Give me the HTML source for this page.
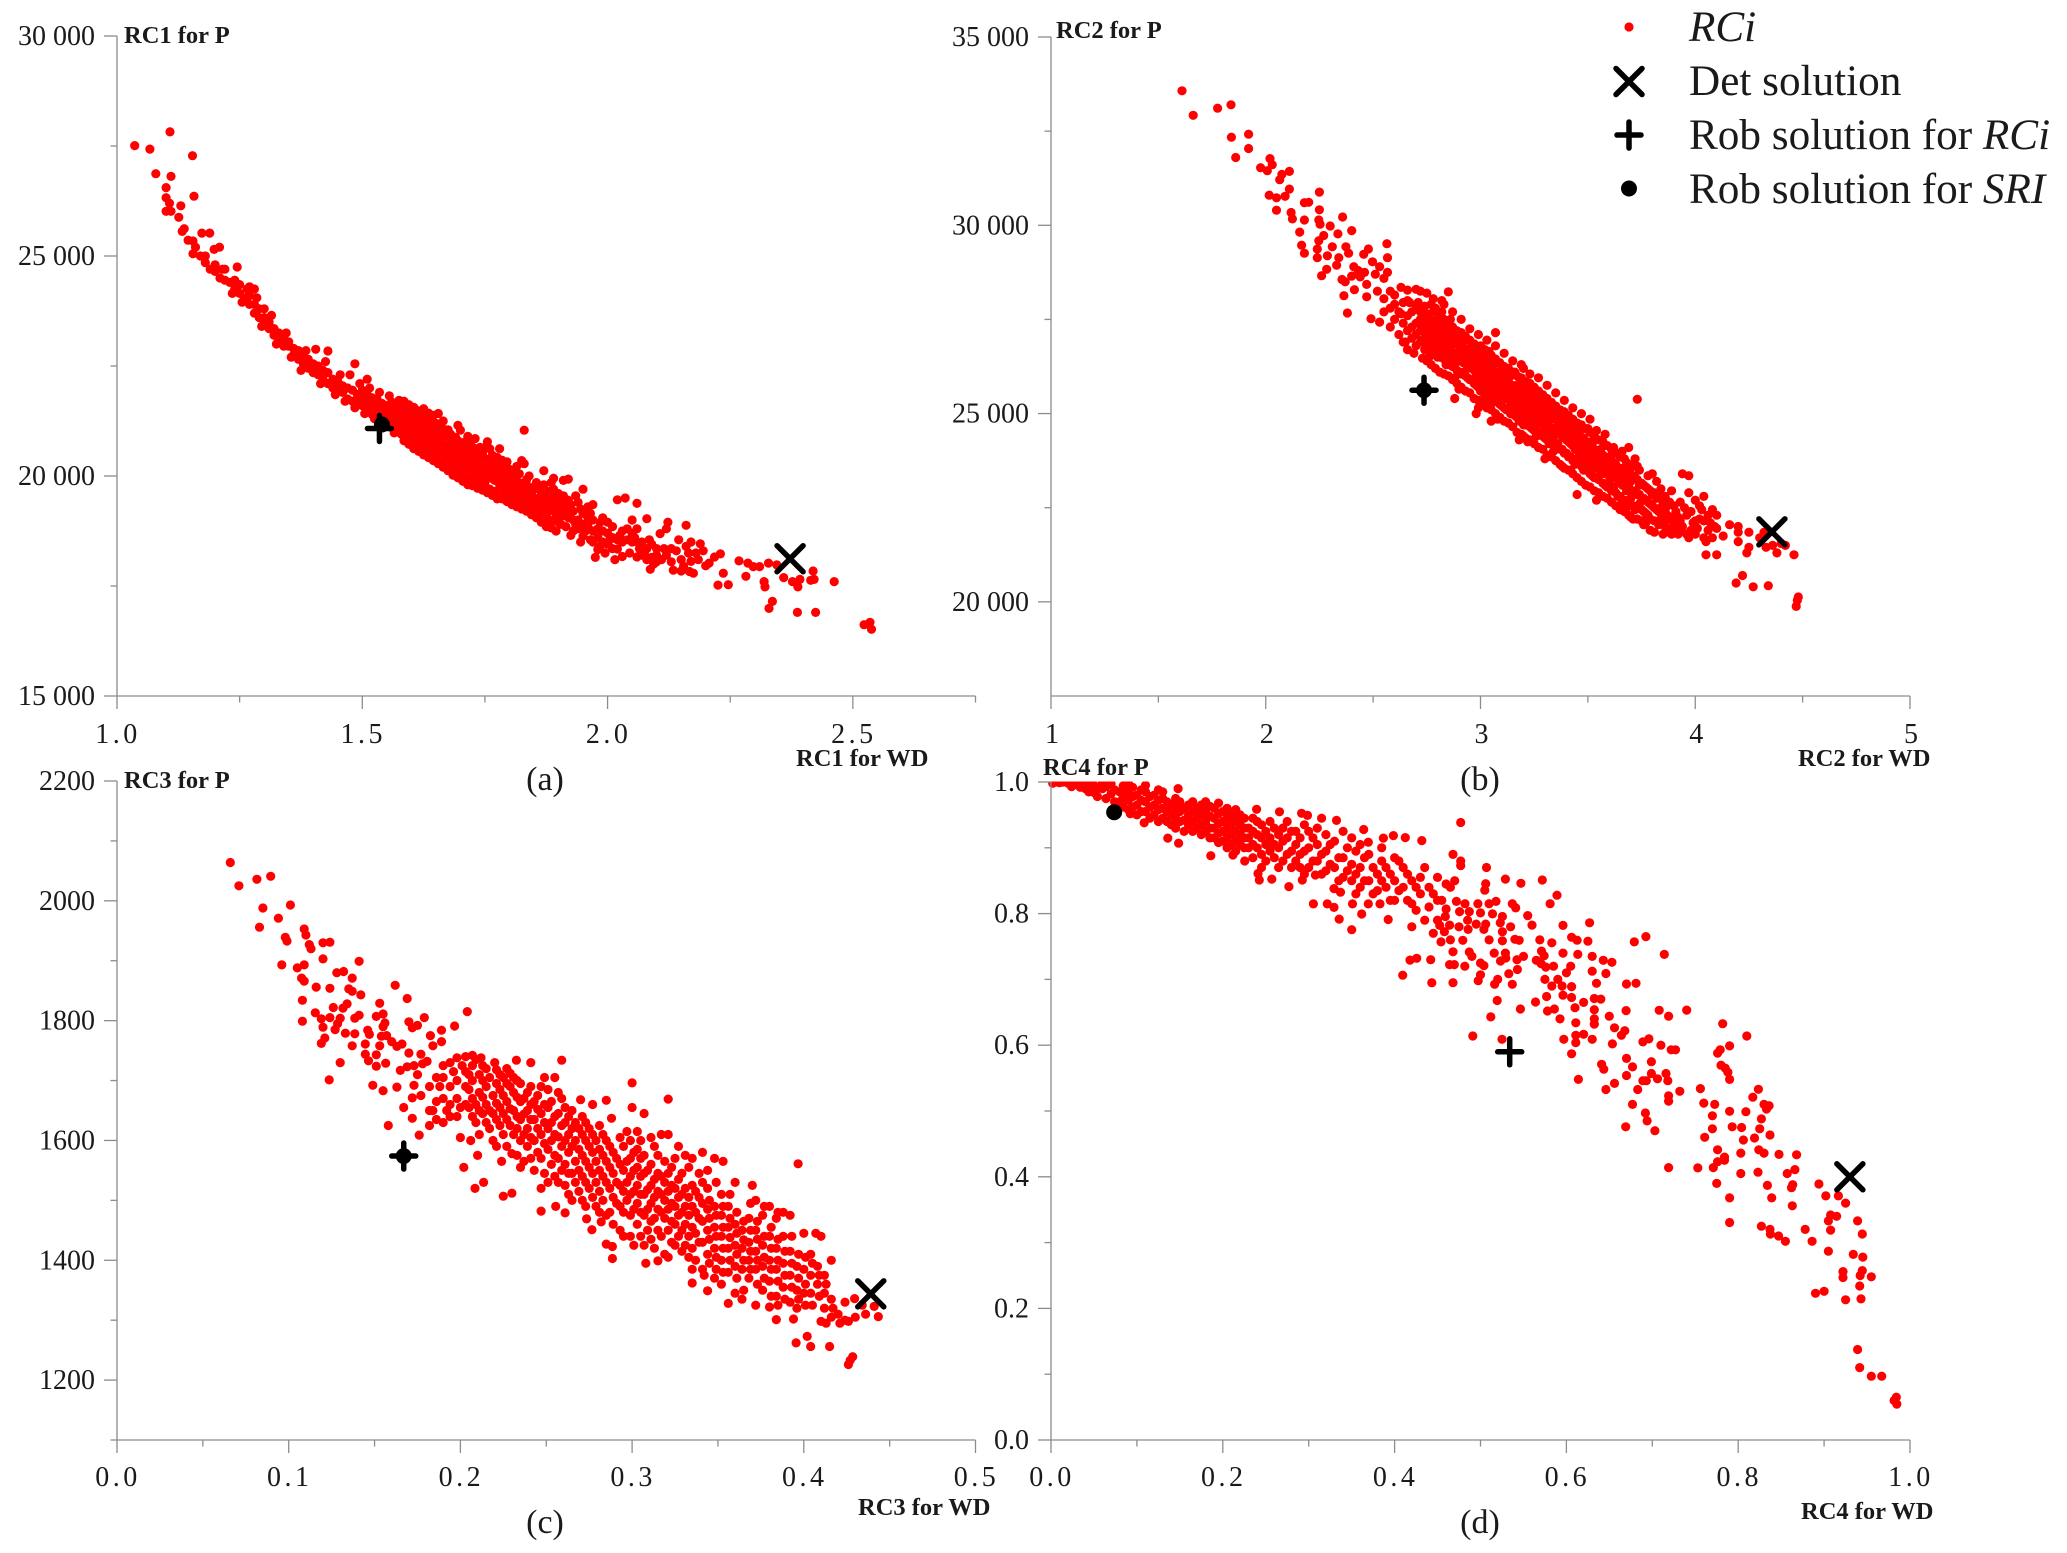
<!DOCTYPE html>
<html lang="en">
<head>
<meta charset="utf-8">
<title>RC scatter panels</title>
<style>
html,body{margin:0;padding:0;background:#fff;}
svg{display:block;}
text{font-family:"Liberation Serif",serif;fill:#1a1a1a;}
.tick{font-size:28px;}
.title{font-size:24.5px;font-weight:bold;}
.cap{font-size:34px;}
.leg{font-size:43.2px;}
</style>
</head>
<body>
<svg id="chart" xmlns="http://www.w3.org/2000/svg" width="2067" height="1553" viewBox="0 0 2067 1553"></svg>
<script>
const rc1Points = [[1.036,27510],[1.067,27430],[1.108,27820],[1.154,27280],[1.079,26870],[1.11,26810],[1.1,26555],[1.1,26325],[1.157,26360],[1.107,26200],[1.1,26015],[1.11,26015],[1.13,26140],[1.126,25880],[1.137,25620],[1.133,25560],[1.145,25360],[1.155,25340],[1.173,25520],[1.189,25520],[1.155,25050],[1.198,25150],[1.209,25200],[1.16,25200],[1.18,25000],[1.17,25000],[1.18,24850],[1.19,24700],[1.2,24800],[1.2,24650],[1.21,24500],[1.22,24450],[1.22,24700],[1.23,24400],[1.24,24250],[1.24,24450],[1.25,24150],[1.25,24350],[1.245,24750],[1.26,24050],[1.27,24100],[1.27,23900],[1.27,24300],[1.28,23900],[1.28,23700],[1.29,23800],[1.29,23600],[1.28,24250],[1.3,23800],[1.3,23600],[1.3,23450],[1.31,23500],[1.31,23350],[1.32,23350],[1.32,23200],[1.33,23250],[1.33,23100],[1.34,23100],[1.34,22950],[1.35,22950],[1.35,23050],[1.36,22750],[1.36,22900],[1.37,22650],[1.37,22850],[1.38,22700],[1.38,22550],[1.39,22450],[1.39,22650],[1.4,22350],[1.4,22550],[1.41,22300],[1.41,22500],[1.405,22880],[1.43,22840],[1.42,22200],[1.42,22400],[1.43,22100],[1.43,22350],[1.44,22000],[1.44,22200],[1.45,21950],[1.45,22150],[1.46,21900],[1.46,22050],[1.47,21750],[1.47,22000],[1.485,22550],[1.48,21700],[1.48,21950],[1.475,22300],[1.49,21650],[1.49,21850],[1.51,22200],[1.5,21600],[1.5,21800],[1.5,21950],
[1.51,21500],[1.51,21700],[1.51,21850],[1.52,21400],[1.52,21600],[1.52,21780],[1.53,21350],[1.53,21550],[1.53,21750],[1.54,21250],[1.54,21450],[1.54,21650],[1.55,21200],[1.55,21400],[1.55,21600],[1.56,21100],[1.56,21300],[1.56,21500],[1.56,21680],[1.57,21050],[1.57,21250],[1.57,21450],[1.57,21620],[1.58,20950],[1.58,21150],[1.58,21350],[1.58,21550],[1.59,20850],[1.59,21050],[1.59,21250],[1.59,21450],[1.6,20800],[1.6,21000],[1.6,21200],[1.6,21400],[1.61,20700],[1.61,20900],[1.61,21100],[1.61,21300],[1.61,21500],[1.62,20650],[1.62,20850],[1.62,21050],[1.62,21250],[1.62,21450],[1.63,20550],[1.63,20750],[1.63,20950],[1.63,21150],[1.63,21350],[1.64,20500],[1.64,20700],[1.64,20900],[1.64,21100],[1.64,21300],[1.65,20400],[1.65,20600],[1.65,20800],[1.65,21000],[1.65,21200],[1.66,20350],[1.66,20550],[1.66,20750],[1.66,20950],[1.66,21150],[1.67,20300],[1.67,20500],[1.67,20700],[1.67,20900],[1.67,21050],[1.68,20150],[1.68,20350],[1.68,20550],[1.68,20750],[1.68,20950],[1.69,20100],[1.69,20300],[1.69,20500],[1.69,20700],[1.69,20880],[1.7,20050],[1.7,20250],[1.7,20450],[1.7,20650],[1.7,21040],[1.71,20000],[1.71,20200],[1.71,20400],[1.71,20600],[1.71,20780],[1.72,19950],[1.72,20150],[1.72,20350],[1.72,20550],[1.72,20720],[1.73,19900],[1.73,20100],[1.73,20300],[1.73,20500],[1.73,20850],[1.74,19850],[1.74,20050],[1.74,20250],[1.74,20450],[1.74,20650],[1.75,19800],[1.75,20000],[1.75,20200],[1.75,20400],[1.75,20650],[1.76,19700],[1.76,19950],[1.76,20150],[1.76,20350],[1.76,20620],[1.77,19650],[1.77,19900],[1.77,20100],[1.77,20300],[1.78,19600],[1.78,19800],[1.78,20050],[1.78,20250],[1.78,20620],[1.79,19600],[1.79,19750],[1.79,20000],[1.79,20200],[1.8,19550],[1.8,19700],[1.8,19950],[1.8,20150],[1.81,19500],[1.81,19750],[1.81,19900],[1.81,20100],[1.82,19450],[1.82,19650],[1.82,19850],[1.82,20050],[1.825,20350],[1.83,21040],[1.83,20280],[1.83,19400],[1.83,19600],[1.83,19800],[1.84,19350],[1.84,19550],[1.84,19750],[1.84,20000],[1.85,19180],[1.85,19300],[1.85,19500],[1.85,19700],[1.86,19100],[1.86,19300],[1.86,19500],[1.86,19700],[1.87,19350],[1.87,19550],[1.87,19800],[1.87,20120],[1.88,19000],[1.88,19200],[1.88,19450],[1.88,19650],[1.89,19000],[1.89,19250],[1.89,19500],[1.89,19700],[1.89,19950],[1.9,18950],[1.9,19200],[1.9,19400],[1.9,19600],[1.91,19100],[1.91,19300],[1.91,19550],[1.91,19900],[1.92,19050],[1.92,19250],[1.92,19450],[1.92,19930],[1.93,18750],[1.93,19000],[1.93,19200],[1.94,19400],[1.94,18800],[1.94,19000],[1.95,18630],[1.95,18900],[1.95,19150],[1.95,19700],[1.96,18850],[1.96,19050],[1.96,19300],[1.97,18500],[1.97,18750],[1.97,19000],[1.97,19350],[1.98,18330],[1.98,18600],[1.98,18800],[1.99,18500],[1.99,18750],[1.99,19050],[2.0,18450],[2.0,18700],[2.0,18950],[2.01,18350],[2.01,18600],[2.01,18850],[2.02,19460],[2.02,18340],[2.02,18550],[2.03,18170],[2.03,18500],[2.03,18750],[2.036,19500],[2.04,18550],[2.04,18800],[2.05,18500],[2.05,18700],[2.05,19000],[2.06,19380],[2.06,18160],[2.06,18500],[2.06,18800],[2.07,18200],[2.07,18500],[2.08,19030],[2.08,18100],[2.08,18350],[2.087,17880],[2.09,18150],[2.094,18000],[2.09,18450],[2.1,18200],[2.1,18350],[2.107,18690],[2.11,18100],[2.12,18800],[2.123,18950],[2.12,18200],[2.134,17860],[2.13,18050],[2.14,18300],[2.15,17840],[2.15,18100],[2.16,18880],[2.16,18400],[2.167,17830],[2.17,18060],[2.17,18500],[2.175,17790],[2.18,18250],[2.189,18460],[2.2,17960],[2.207,18020],[2.218,18160],[2.225,17520],[2.23,18230],[2.236,17790],[2.246,17530],[2.268,18070],[2.282,17720],[2.286,18020],[2.297,17940],[2.31,17940],[2.319,17600],[2.321,17480],[2.328,18020],[2.329,16990],[2.336,17150],[2.345,17980],[2.359,17690],[2.377,17600],[2.387,16900],[2.388,17480],[2.392,17650],[2.414,17630],[2.419,17840],[2.421,17650],[2.424,16900],[2.462,17600],[2.523,16620],[2.535,16675],[2.538,16515]];

const rc1CorePoints = [[1.215,24700],[1.235,24150],[1.255,23950],[1.265,24250],[1.285,24050],[1.295,23400],[1.315,23650],[1.325,23000],[1.345,23250],[1.355,22700],[1.375,22400],[1.385,22850],[1.415,22100],[1.425,22600],[1.445,21850],[1.455,22300],[1.465,21700],[1.485,21550],[1.495,22100],[1.505,21420],[1.515,22000],[1.525,21300],[1.535,21900],[1.545,21150],[1.555,21820],[1.565,20980],[1.575,21720],[1.585,20800],[1.585,21700],[1.595,20720],[1.595,21620],[1.605,20620],[1.605,21560],[1.615,20560],[1.615,21000],[1.615,21400],[1.625,20480],[1.625,20940],[1.625,21530],[1.635,20420],[1.635,20850],[1.635,21430],[1.645,20350],[1.645,20800],[1.645,21380],[1.655,20280],[1.655,20680],[1.655,21080],[1.655,21420],[1.665,20200],[1.665,20650],[1.665,21250],[1.675,20120],[1.675,20600],[1.675,21050],[1.685,20020],[1.685,20450],[1.685,20850],[1.695,19960],[1.695,20400],[1.695,20800],[1.695,21150],[1.705,19880],[1.705,20300],[1.705,20750],[1.715,19800],[1.715,20250],[1.715,20900],[1.725,19780],[1.725,20220],[1.725,20650],[1.735,19720],[1.735,20170],[1.735,20570],[1.745,19680],[1.745,20120],[1.745,20520],[1.755,19620],[1.755,20070],[1.755,20780],[1.765,19560],[1.765,20020],[1.765,20470],[1.775,19480],[1.775,19980],[1.775,20420],[1.785,19480],[1.785,19900],[1.785,20360],[1.795,19420],[1.795,19850],[1.795,20320],[1.805,19350],[1.805,19620],[1.805,20020],[1.815,19300],[1.815,19580],[1.815,20220],[1.825,19250],[1.825,19720],[1.835,19200],[1.835,19480],[1.835,19920],[1.845,19120],[1.845,19440],[1.845,19620],[1.855,19050],[1.855,19400],[1.855,19850],[1.865,18950],[1.865,19200],[1.865,19620],[1.875,18850],[1.875,19120],[1.875,19420],[1.885,18820],[1.885,19350],[1.885,19850],[1.895,18750],[1.895,19100],[1.895,19320],[1.905,18900],[1.905,19480],[1.915,18850],[1.915,19180],[1.925,18650],[1.925,19350],[1.935,18900],[1.935,19550],[1.945,18500],[1.945,19250],[1.955,18750],[1.965,18550],[1.965,19150],[1.975,18150],[1.985,18400],[1.985,18950],[1.995,18250],[2.005,18550],[2.015,18100],[2.025,18650],[2.045,18250],[2.055,18600],[2.065,18350],[2.075,18250],[2.085,18550],[2.1,18050],[2.115,18350],[2.13,18350],[2.145,18550],[2.155,17950],[2.165,18250],[2.185,18100],[2.195,18300]];

const rc2Points = [[1.61,33570],[1.662,32920],[1.776,33110],[1.838,33200],[1.84,32340],[1.92,32420],[1.92,32040],[1.86,31800],[1.976,31530],[2.02,31770],[2.007,31450],[2.03,31610],[2.065,31210],[2.075,31350],[2.11,31430],[2.016,30800],[2.05,30730],[2.11,30960],[2.09,30770],[2.05,30400],[2.118,30340],[2.124,30170],[2.18,30600],[2.2,30610],[2.25,30880],[2.25,30410],[2.247,30140],[2.18,30140],[2.158,29820],[2.253,30030],[2.358,30220],[2.3,29980],[2.4,29860],[2.336,29770],[2.167,29470],[2.18,29260],[2.24,29370],[2.24,29140],[2.247,29590],[2.27,29730],[2.31,29430],[2.287,29190],[2.373,29430],[2.386,29260],[2.34,29140],[2.456,29230],[2.478,29370],[2.497,29030],[2.564,29510],[2.567,29140],[2.53,28900],[2.567,28750],[2.55,28590],[2.26,28660],[2.284,28830],[2.355,28560],[2.33,28940],[2.41,28900],[2.44,28630],[2.47,28430],[2.364,28130],[2.413,28290],[2.47,28100],[2.38,27670],[2.49,27520],[2.53,27430],[2.37,28500],[2.4,28650],[2.43,28800],[2.46,28750],[2.51,28700],[2.52,28250],[2.55,28050],[2.58,28250],[2.6,28150],[2.63,28350],[2.66,28280],[2.7,28300],[2.72,28250],[2.75,28200],[2.85,28230],[2.78,28050],[2.82,28000],
[2.55,27700],[2.58,27800],[2.58,27300],[2.6,27500],[2.6,27900],[2.62,27100],[2.62,27700],[2.64,26900],[2.64,27400],[2.64,27950],[2.66,26700],[2.66,27200],[2.66,27600],[2.66,28000],[2.68,27000],[2.68,27300],[2.68,27700],[2.7,26800],[2.7,27100],[2.7,27400],[2.7,27800],[2.72,26900],[2.72,27200],[2.72,27500],[2.72,27700],[2.74,26700],[2.74,27000],[2.74,27250],[2.74,27500],[2.74,27850],[2.76,26500],[2.76,26850],[2.76,27100],[2.76,27350],[2.76,27600],[2.78,26700],[2.78,26950],[2.78,27200],[2.78,27450],[2.78,27700],[2.8,26500],[2.8,26800],[2.8,27000],[2.8,27250],[2.8,27500],[2.82,26700],[2.82,26950],[2.82,27150],[2.82,27350],[2.82,27700],[2.84,26300],[2.84,26600],[2.84,26850],[2.84,27050],[2.84,27300],[2.86,26500],[2.86,26750],[2.86,26950],[2.86,27150],[2.86,27500],[2.88,25950],[2.88,26300],[2.88,26600],[2.88,26850],[2.88,27100],[2.88,25400],[2.9,25650],[2.9,26400],[2.9,26650],[2.9,26850],[2.9,27000],[2.92,26100],[2.92,26350],[2.92,26550],[2.92,26750],[2.92,27000],[2.94,25950],[2.94,26200],[2.94,26450],[2.94,26700],[2.94,26950],[2.96,25900],[2.96,26200],[2.96,26350],[2.96,26600],[2.96,26800],[2.98,25750],[2.98,26050],[2.98,26300],[2.98,26500],[2.98,26700],[2.99,25150],[2.98,25000],[3,25600],[3,25900],[3,26150],[3,26350],[3,26550],[3,26800],[3.02,25450],[3.02,25800],[3.02,26050],[3.02,26250],[3.02,26450],[3.02,26700],[3.04,25350],[3.04,25700],[3.04,25900],[3.04,26100],[3.04,26350],[3.04,26650],[3.06,25300],[3.06,25550],[3.06,25800],[3.06,26050],[3.06,26300],[3.07,27150],[3.08,25400],[3.08,25700],[3.08,25900],[3.08,26100],[3.08,26350],[3.08,24850],[3.05,24800],[3.1,25200],[3.1,25500],[3.1,25750],[3.1,25950],[3.1,26250],[3.12,25100],[3.12,25400],[3.12,25650],[3.12,25850],[3.12,26100],[3.14,25000],[3.14,25300],[3.14,25500],[3.14,25700],[3.14,26000],[3.16,24950],[3.16,25200],[3.16,25400],[3.16,25650],[3.16,26100],[3.18,24300],[3.18,24800],[3.18,25100],[3.18,25300],[3.18,25500],[3.18,25800],[3.2,24400],[3.2,24700],[3.2,25000],[3.2,25200],[3.2,25450],[3.2,26200],[3.2,25700],[3.22,24250],[3.22,24900],[3.22,25100],[3.22,25300],[3.22,25600],[3.24,24600],[3.24,24800],[3.24,25000],[3.24,25250],[3.24,25550],[3.26,24400],[3.26,24700],[3.26,24900],[3.26,25150],[3.26,25450],[3.28,24500],[3.28,24750],[3.28,25000],[3.28,25350],[3.3,23800],[3.3,24350],[3.3,24650],[3.3,24900],[3.3,25200],[3.32,24200],[3.32,24500],[3.32,24800],[3.32,25100],[3.34,24000],[3.34,24300],[3.34,24600],[3.34,24900],[3.34,25000],[3.36,24200],[3.36,24500],[3.36,24700],[3.36,25100],[3.38,23600],[3.38,24050],[3.38,24400],[3.38,24650],[3.38,24950],[3.4,23950],[3.4,24300],[3.4,24550],[3.4,24850],[3.42,23500],[3.42,23850],[3.42,24200],[3.42,24450],[3.42,24800],[3.45,22850],[3.44,23650],[3.44,24050],[3.44,24300],[3.44,24650],[3.46,23900],[3.46,24200],[3.46,24500],[3.48,23500],[3.48,23800],[3.48,24100],[3.48,24350],[3.5,23650],[3.5,24000],[3.5,24250],[3.5,24600],[3.52,23350],[3.52,23600],[3.52,23850],[3.52,24200],[3.54,22700],[3.55,22900],[3.54,23300],[3.54,23550],[3.54,23800],[3.54,24550],[3.56,23450],[3.56,23750],[3.56,24050],[3.58,23100],[3.58,23400],[3.58,23650],[3.58,24450],[3.6,23200],[3.6,23550],[3.6,23850],[3.62,23050],[3.62,23400],[3.62,23700],[3.62,24100],[3.64,22800],[3.64,23250],[3.64,23550],[3.66,22650],[3.66,23100],[3.66,23400],[3.66,24000],[3.68,22500],[3.68,22950],[3.68,23300],[3.68,23700],[3.7,22250],[3.7,22750],[3.7,23200],[3.7,23550],[3.72,22450],[3.72,22950],[3.72,23300],[3.72,23800],[3.73,25380],[3.74,22600],[3.74,22850],[3.74,23100],[3.74,23500],[3.76,22050],[3.76,22400],[3.76,22750],[3.76,23100],[3.78,22300],[3.78,22650],[3.78,23000],[3.78,23350],[3.8,22550],[3.8,22850],[3.8,23400],[3.82,22450],[3.82,22750],[3.82,23200],[3.84,22200],[3.84,22500],[3.84,23000],[3.86,21850],[3.86,22000],[3.86,22450],[3.86,22800],[3.88,22200],[3.88,22650],[3.9,21900],[3.9,22100],[3.9,22550],[3.92,21800],[3.92,22250],[3.94,22000],[3.94,23400],[3.96,21800],[3.96,22300],[3.97,23350],[3.97,22900],[3.98,21900],[3.98,22400],[4,21800],[4,22150],[4,22700],[4.02,22200],[4.02,22550],[4.04,21700],[4.04,22150],[4.04,22800],[4.05,21250],[4.06,21900],[4.06,22300],[4.08,21700],[4.08,22450],[4.1,21250],[4.1,21950],[4.1,22300],[4.13,21750],[4.16,22050],[4.2,21600],[4.2,21850],[4.2,22000],[4.19,20500],[4.22,20700],[4.24,21300],[4.25,21450],[4.25,21850],[4.27,20400],[4.34,20430],[4.3,21700],[4.32,21850],[4.33,21450],[4.36,21500],[4.38,21300],[4.4,21550],[4.42,21500],[4.46,21250],[4.47,19880],[4.475,20040],[4.48,20130]];

const rc2CorePoints = [[2.63,27650],[2.65,26900],[2.67,27950],[2.69,26600],[2.71,27950],[2.73,26470],[2.73,26950],[2.73,27370],[2.73,27820],[2.75,26400],[2.75,26800],[2.75,27150],[2.75,27650],[2.77,26300],[2.77,26650],[2.77,27000],[2.77,27400],[2.77,27900],[2.79,26200],[2.79,26600],[2.79,26950],[2.79,27350],[2.79,27800],[2.81,26100],[2.81,26500],[2.81,26850],[2.81,27200],[2.81,27600],[2.83,26050],[2.83,26450],[2.83,26800],[2.83,27100],[2.83,27500],[2.83,27900],[2.85,26000],[2.85,26300],[2.85,26700],[2.85,27050],[2.85,27400],[2.87,25900],[2.87,26250],[2.87,26600],[2.87,26950],[2.87,27300],[2.87,27700],[2.89,25800],[2.89,26150],[2.89,26500],[2.89,26850],[2.89,27200],[2.91,25700],[2.91,26050],[2.91,26450],[2.91,26800],[2.91,27150],[2.91,27500],[2.93,25600],[2.93,26000],[2.93,26350],[2.93,26700],[2.93,27050],[2.95,25550],[2.95,25900],[2.95,26250],[2.95,26600],[2.95,26950],[2.95,27250],[2.97,25400],[2.97,25800],[2.97,26150],[2.97,26550],[2.97,26850],[2.99,25350],[2.99,25700],[2.99,26100],[2.99,26450],[2.99,26750],[2.99,27100],[3.01,25250],[3.01,25600],[3.01,26000],[3.01,26350],[3.01,26700],[3.03,25150],[3.03,25500],[3.03,25900],[3.03,26250],[3.03,26600],[3.03,26950],[3.05,25100],[3.05,25450],[3.05,25850],[3.05,26200],[3.05,26550],[3.07,25000],[3.07,25350],[3.07,25750],[3.07,26100],[3.07,26450],[3.07,26800],[3.09,24900],[3.09,25250],[3.09,25650],[3.09,26000],[3.09,26350],[3.11,24800],[3.11,25150],[3.11,25550],[3.11,25900],[3.11,26250],[3.11,26600],[3.13,24750],[3.13,25100],[3.13,25500],[3.13,25850],[3.13,26200],[3.15,24650],[3.15,25000],[3.15,25400],[3.15,25750],[3.15,26100],[3.15,26400],[3.17,24500],[3.17,24900],[3.17,25300],[3.17,25650],[3.17,26000],[3.19,24450],[3.19,24850],[3.19,25250],[3.19,25600],[3.19,25950],[3.19,26300],[3.21,24350],[3.21,24700],[3.21,25150],[3.21,25500],[3.21,25850],[3.23,24300],[3.23,24650],[3.23,25050],[3.23,25450],[3.23,25800],[3.23,26050],[3.25,24200],[3.25,24550],[3.25,24950],[3.25,25350],[3.25,25700],[3.27,24100],[3.27,24450],[3.27,24850],[3.27,25250],[3.27,25600],[3.27,25950],[3.29,24050],[3.29,24400],[3.29,24800],[3.29,25150],[3.29,25500],[3.31,23900],[3.31,24300],[3.31,24700],[3.31,25050],[3.31,25400],[3.31,25750],[3.33,23850],[3.33,24200],[3.33,24600],[3.33,24950],[3.33,25300],[3.35,23750],[3.35,24100],[3.35,24500],[3.35,24850],[3.35,25200],[3.35,25550],[3.37,23650],[3.37,24050],[3.37,24450],[3.37,24800],[3.37,25100],[3.39,23550],[3.39,23950],[3.39,24350],[3.39,24700],[3.39,25050],[3.39,25350],[3.41,23500],[3.41,23850],[3.41,24250],[3.41,24600],[3.41,24950],[3.43,23400],[3.43,23750],[3.43,24150],[3.43,24550],[3.43,24850],[3.43,25150],[3.45,23300],[3.45,23700],[3.45,24100],[3.45,24450],[3.45,24750],[3.47,23200],[3.47,23600],[3.47,24000],[3.47,24350],[3.47,24700],[3.47,25000],[3.49,23100],[3.49,23500],[3.49,23900],[3.49,24250],[3.49,24600],[3.51,23050],[3.51,23400],[3.51,23800],[3.51,24150],[3.51,24500],[3.51,24850],[3.53,22950],[3.53,23300],[3.53,23700],[3.53,24050],[3.53,24400],[3.55,23250],[3.55,23650],[3.55,24000],[3.55,24300],[3.57,22800],[3.57,23150],[3.57,23550],[3.57,23900],[3.57,24250],[3.59,22750],[3.59,23050],[3.59,23450],[3.59,23800],[3.59,24150],[3.61,22650],[3.61,22950],[3.61,23350],[3.61,23750],[3.61,24050],[3.63,22550],[3.63,22900],[3.63,23300],[3.63,23650],[3.63,23950],[3.65,22450],[3.65,22800],[3.65,23200],[3.65,23550],[3.65,23850],[3.67,22400],[3.67,22700],[3.67,23100],[3.67,23500],[3.67,23800],[3.69,22300],[3.69,22650],[3.69,23050],[3.69,23400],[3.69,24100],[3.71,22200],[3.71,22550],[3.71,22950],[3.71,23350],[3.71,23650],[3.73,22200],[3.73,22500],[3.73,22850],[3.73,23250],[3.73,23600],[3.75,22150],[3.75,22450],[3.75,22750],[3.75,23150],[3.77,22100],[3.77,22350],[3.77,22700],[3.77,23050],[3.79,21900],[3.79,22200],[3.79,22600],[3.79,22950],[3.81,21850],[3.81,22150],[3.81,22500],[3.81,22900],[3.83,22050],[3.83,22400],[3.83,22800],[3.85,21800],[3.85,22150],[3.85,22350],[3.85,22650],[3.87,21950],[3.87,22300],[3.87,22550],[3.89,21800],[3.89,22250],[3.89,22950],[3.91,22000],[3.91,22400],[3.93,21900],[3.93,22150],[3.93,22650],[3.95,22500],[3.97,21700],[3.99,22100],[4.01,21950],[4.03,22450],[4.05,21600],[4.07,22100],[4.09,22000]];

const rc3Points = [[0.066,2064],[0.071,2025],[0.0815,2036],[0.0895,2041],[0.101,1993],[0.085,1988],[0.083,1956],[0.094,1971],[0.098,1939],[0.099,1933],[0.096,1893],[0.109,1953],[0.11,1943],[0.112,1927],[0.113,1920],[0.12,1930],[0.124,1931],[0.12,1903],[0.105,1888],[0.109,1893],[0.141,1899],[0.128,1880],[0.132,1882],[0.137,1871],[0.1075,1871],[0.109,1866],[0.116,1856],[0.124,1854],[0.135,1853],[0.137,1849],[0.142,1843],[0.162,1859],[0.169,1837],[0.153,1829],[0.108,1834],[0.1155,1813],[0.119,1803],[0.108,1799],[0.126,1822],[0.134,1828],[0.1316,1821],[0.124,1805],[0.13,1804],[0.127,1785],[0.1285,1795],[0.12,1789],[0.121,1771],[0.119,1762],[0.133,1779],[0.1385,1778],[0.137,1758],[0.1446,1761],[0.1385,1804],[0.141,1809],[0.151,1807],[0.155,1811],[0.156,1796],[0.155,1790],[0.146,1784],[0.147,1777],[0.154,1774],[0.1446,1744],[0.1465,1733],[0.151,1743],[0.1565,1729],[0.151,1724],[0.13,1730],[0.1236,1701],[0.149,1692],[0.163,1689],[0.158,1625],[0.155,1683],[0.163,1757],[0.166,1761],[0.17,1746],[0.165,1717],[0.169,1723],[0.173,1725],[0.175,1710],[0.173,1692],[0.167,1655],[0.172,1671],[0.177,1675],[0.172,1637],[0.176,1609],[0.204,1815],[0.1966,1791],[0.17,1798],[0.179,1805],[0.175,1792],[0.172,1788],[0.1825,1775],[0.189,1784],[0.184,1758],[0.189,1765],[0.177,1744],[0.1806,1732],[0.16,1765],[0.153,1758],[0.157,1775],[0.178,1728],
[0.182,1625],[0.182,1650],[0.182,1690],[0.186,1635],[0.186,1665],[0.186,1705],[0.19,1630],[0.19,1670],[0.19,1705],[0.19,1725],[0.194,1640],[0.194,1660],[0.194,1690],[0.194,1730],[0.198,1640],[0.198,1670],[0.198,1700],[0.198,1738],[0.2,1605],[0.203,1660],[0.203,1690],[0.203,1715],[0.203,1740],[0.202,1555],[0.206,1600],[0.207,1640],[0.207,1670],[0.207,1700],[0.207,1725],[0.207,1742],[0.2085,1520],[0.2135,1530],[0.21,1575],[0.211,1610],[0.211,1650],[0.211,1680],[0.211,1710],[0.212,1738],[0.215,1630],[0.215,1660],[0.215,1690],[0.215,1720],[0.219,1600],[0.219,1645],[0.219,1675],[0.22,1730],[0.223,1625],[0.223,1655],[0.223,1685],[0.223,1710],[0.225,1507],[0.224,1565],[0.227,1590],[0.227,1635],[0.227,1665],[0.227,1695],[0.227,1720],[0.23,1512],[0.23,1578],[0.231,1610],[0.231,1650],[0.231,1680],[0.231,1705],[0.2326,1734],[0.235,1555],[0.235,1600],[0.235,1635],[0.235,1665],[0.235,1695],[0.239,1590],[0.239,1620],[0.239,1650],[0.239,1680],[0.241,1730],[0.243,1550],[0.243,1600],[0.243,1635],[0.243,1665],[0.247,1482],[0.247,1520],[0.247,1570],[0.247,1610],[0.247,1645],[0.247,1690],[0.251,1530],[0.251,1585],[0.251,1620],[0.251,1655],[0.251,1685],[0.2555,1490],[0.255,1540],[0.255,1575],[0.255,1610],[0.255,1640],[0.255,1705],[0.259,1734],[0.259,1550],[0.259,1590],[0.259,1625],[0.259,1670],[0.261,1479],[0.263,1510],[0.263,1545],[0.263,1580],[0.263,1610],[0.263,1640],[0.267,1530],[0.267,1565],[0.267,1600],[0.267,1630],[0.27,1668],[0.2735,1469],[0.271,1500],[0.271,1540],[0.271,1575],[0.271,1610],[0.271,1640],[0.2766,1451],[0.275,1520],[0.275,1555],[0.275,1590],[0.275,1620],[0.277,1660],[0.279,1490],[0.279,1530],[0.279,1565],[0.279,1600],[0.282,1464],[0.283,1500],[0.283,1540],[0.283,1575],[0.283,1610],[0.285,1667],[0.285,1427],[0.2885,1423],[0.2885,1403],[0.287,1480],[0.287,1520],[0.287,1555],[0.287,1590],[0.288,1637],[0.291,1495],[0.291,1530],[0.291,1570],[0.295,1440],[0.295,1480],[0.295,1515],[0.295,1550],[0.295,1590],[0.299,1440],[0.299,1475],[0.299,1510],[0.299,1540],[0.299,1570],[0.299,1600],[0.3,1696],[0.3,1655],[0.303,1460],[0.303,1495],[0.303,1525],[0.303,1555],[0.303,1585],[0.303,1615],[0.308,1395],[0.307,1425],[0.307,1475],[0.307,1510],[0.307,1545],[0.307,1575],[0.307,1645],[0.311,1435],[0.311,1465],[0.311,1495],[0.311,1525],[0.311,1560],[0.311,1605],[0.315,1399],[0.315,1450],[0.315,1485],[0.315,1515],[0.315,1545],[0.315,1575],[0.319,1410],[0.319,1470],[0.319,1500],[0.319,1530],[0.319,1565],[0.321,1669],[0.321,1610],[0.323,1430],[0.323,1465],[0.323,1495],[0.323,1525],[0.323,1555],[0.327,1440],[0.327,1475],[0.327,1505],[0.327,1535],[0.327,1590],[0.331,1425],[0.331,1460],[0.331,1490],[0.331,1520],[0.331,1575],[0.335,1362],[0.335,1385],[0.335,1420],[0.335,1455],[0.335,1490],[0.335,1525],[0.335,1570],[0.339,1430],[0.339,1470],[0.339,1505],[0.339,1545],[0.341,1580],[0.344,1349],[0.342,1375],[0.344,1410],[0.344,1450],[0.344,1485],[0.344,1520],[0.344,1550],[0.348,1370],[0.348,1420],[0.348,1455],[0.348,1490],[0.348,1570],[0.352,1360],[0.352,1400],[0.352,1440],[0.352,1475],[0.352,1510],[0.353,1565],[0.356,1328],[0.356,1380],[0.356,1420],[0.356,1455],[0.356,1490],[0.36,1345],[0.36,1390],[0.36,1425],[0.36,1460],[0.36,1530],[0.364,1335],[0.364,1385],[0.364,1420],[0.364,1450],[0.368,1370],[0.368,1400],[0.368,1430],[0.368,1470],[0.37,1525],[0.372,1325],[0.372,1385],[0.372,1415],[0.372,1450],[0.372,1500],[0.376,1350],[0.376,1390],[0.376,1425],[0.376,1475],[0.38,1322],[0.38,1365],[0.38,1400],[0.38,1440],[0.38,1490],[0.384,1301],[0.384,1340],[0.384,1385],[0.384,1420],[0.384,1470],[0.388,1355],[0.388,1395],[0.388,1440],[0.388,1480],[0.392,1330],[0.392,1375],[0.392,1415],[0.392,1475],[0.394,1302],[0.396,1320],[0.396,1350],[0.396,1390],[0.3967,1561],[0.3955,1262],[0.4,1345],[0.4,1385],[0.4,1445],[0.402,1273],[0.404,1256],[0.404,1345],[0.404,1375],[0.404,1410],[0.407,1445],[0.408,1360],[0.408,1390],[0.41,1298],[0.41,1440],[0.412,1320],[0.412,1345],[0.412,1375],[0.415,1256],[0.416,1305],[0.416,1335],[0.416,1400],[0.42,1310],[0.424,1300],[0.424,1330],[0.426,1226],[0.426,1298],[0.4285,1239],[0.427,1233],[0.43,1305],[0.4296,1336],[0.436,1310],[0.441,1323],[0.4434,1306]];

const rc3CorePoints = [[0.184,1650],[0.188,1690],[0.192,1650],[0.196,1715],[0.2,1655],[0.201,1725],[0.205,1655],[0.205,1685],[0.205,1710],[0.209,1630],[0.209,1660],[0.209,1735],[0.213,1645],[0.213,1672],[0.213,1700],[0.213,1725],[0.217,1620],[0.217,1650],[0.217,1705],[0.221,1590],[0.221,1635],[0.221,1662],[0.221,1695],[0.221,1718],[0.225,1610],[0.225,1645],[0.225,1675],[0.225,1705],[0.229,1625],[0.229,1653],[0.229,1690],[0.229,1712],[0.233,1575],[0.233,1620],[0.233,1640],[0.233,1672],[0.233,1700],[0.237,1565],[0.237,1610],[0.237,1644],[0.237,1670],[0.241,1570],[0.241,1605],[0.241,1635],[0.241,1660],[0.241,1690],[0.245,1580],[0.245,1620],[0.245,1652],[0.245,1675],[0.249,1545],[0.249,1595],[0.249,1630],[0.249,1660],[0.249,1705],[0.253,1560],[0.253,1600],[0.253,1630],[0.253,1665],[0.257,1530],[0.257,1570],[0.257,1606],[0.257,1645],[0.257,1680],[0.261,1525],[0.261,1560],[0.261,1600],[0.261,1630],[0.261,1655],[0.265,1500],[0.265,1545],[0.265,1590],[0.265,1620],[0.265,1650],[0.269,1515],[0.269,1550],[0.269,1585],[0.269,1620],[0.273,1490],[0.273,1530],[0.273,1565],[0.273,1600],[0.273,1630],[0.277,1505],[0.277,1545],[0.277,1580],[0.277,1610],[0.281,1480],[0.281,1515],[0.281,1550],[0.281,1585],[0.281,1625],[0.285,1475],[0.285,1530],[0.285,1565],[0.285,1600],[0.289,1460],[0.289,1505],[0.289,1545],[0.289,1580],[0.293,1450],[0.293,1490],[0.293,1525],[0.293,1560],[0.293,1605],[0.297,1500],[0.297,1530],[0.297,1565],[0.297,1615],[0.301,1425],[0.301,1485],[0.301,1515],[0.301,1550],[0.301,1580],[0.305,1440],[0.305,1480],[0.305,1510],[0.305,1540],[0.305,1570],[0.305,1600],[0.309,1450],[0.309,1485],[0.309,1518],[0.309,1550],[0.313,1420],[0.313,1470],[0.313,1505],[0.313,1535],[0.313,1590],[0.317,1440],[0.317,1480],[0.317,1510],[0.317,1540],[0.317,1610],[0.321,1405],[0.321,1450],[0.321,1485],[0.321,1515],[0.321,1545],[0.325,1425],[0.325,1460],[0.325,1490],[0.325,1520],[0.325,1570],[0.329,1415],[0.329,1450],[0.329,1480],[0.329,1510],[0.329,1545],[0.333,1405],[0.333,1440],[0.333,1475],[0.333,1505],[0.333,1555],[0.337,1400],[0.337,1445],[0.337,1480],[0.337,1515],[0.341,1385],[0.341,1430],[0.341,1465],[0.341,1495],[0.341,1530],[0.345,1395],[0.345,1435],[0.345,1470],[0.345,1500],[0.349,1385],[0.349,1405],[0.349,1440],[0.349,1475],[0.349,1530],[0.353,1380],[0.353,1420],[0.353,1455],[0.353,1490],[0.357,1400],[0.357,1438],[0.357,1470],[0.357,1510],[0.361,1370],[0.361,1410],[0.361,1445],[0.361,1480],[0.365,1350],[0.365,1400],[0.365,1434],[0.365,1465],[0.369,1385],[0.369,1415],[0.369,1450],[0.369,1495],[0.373,1360],[0.373,1400],[0.373,1435],[0.373,1465],[0.377,1370],[0.377,1405],[0.377,1440],[0.377,1490],[0.381,1340],[0.381,1385],[0.381,1420],[0.381,1455],[0.385,1325],[0.385,1365],[0.385,1400],[0.385,1435],[0.385,1480],[0.389,1335],[0.389,1375],[0.389,1415],[0.393,1355],[0.393,1395],[0.393,1440],[0.397,1335],[0.397,1370],[0.397,1410],[0.401,1325],[0.401,1360],[0.401,1405],[0.405,1325],[0.405,1395],[0.409,1340],[0.409,1375],[0.413,1295],[0.413,1360],[0.417,1320],[0.421,1295],[0.434,1325]];

const rc4Points = [[0.002,0.998],[0.01,0.999],[0.02,0.998],[0.03,0.996],[0.03,0.999],[0.04,0.99],[0.04,0.998],[0.05,0.984],[0.05,0.995],[0.06,0.99],[0.06,0.999],[0.07,0.982],[0.07,0.997],[0.08,0.97],[0.08,0.985],[0.09,0.998],[0.09,0.958],[0.09,0.972],[0.09,0.985],[0.1,0.95],[0.1,0.965],[0.1,0.98],[0.11,0.955],[0.11,0.97],[0.11,0.985],[0.11,0.995],[0.1085,0.938],[0.0923,0.9516],[0.12,0.95],[0.12,0.965],[0.12,0.98],[0.13,0.945],[0.13,0.96],[0.13,0.975],[0.13,0.985],[0.136,0.9147],[0.14,0.935],[0.14,0.95],[0.14,0.965],[0.15,0.94],[0.15,0.955],[0.15,0.97],[0.148,0.99],[0.1485,0.907],[0.16,0.935],[0.16,0.95],[0.16,0.965],[0.17,0.93],[0.17,0.945],[0.17,0.96],[0.18,0.925],[0.18,0.94],[0.18,0.955],[0.18,0.97],[0.186,0.888],[0.19,0.915],[0.19,0.93],[0.19,0.945],[0.19,0.96],[0.2,0.91],[0.2,0.925],[0.2,0.94],[0.2,0.955],[0.21,0.905],[0.21,0.92],[0.21,0.935],[0.21,0.95],[0.2117,0.889],[0.22,0.905],[0.22,0.92],[0.22,0.935],[0.22,0.95],[0.2255,0.88],[0.23,0.9],[0.23,0.915],[0.23,0.93],[0.24,0.9],[0.24,0.92],[0.24,0.94],[0.2393,0.9585],[0.241,0.861],[0.2425,0.851],[0.25,0.88],[0.25,0.905],[0.25,0.925],[0.257,0.8524],[0.26,0.885],[0.26,0.905],[0.26,0.93],[0.266,0.9547],[0.27,0.88],[0.27,0.91],[0.27,0.93],[0.277,0.841],[0.28,0.87],[0.28,0.895],[0.28,0.925],[0.2917,0.9524],[0.2986,0.9493],[0.2925,0.851],[0.29,0.87],[0.29,0.89],[0.29,0.915],[0.3,0.87],[0.3,0.9],[0.3,0.925],[0.3055,0.8148],[0.3078,0.8586],[0.31,0.88],[0.31,0.905],[0.31,0.93],[0.3217,0.8148],[0.32,0.865],[0.32,0.895],[0.32,0.92],[0.3294,0.8094],[0.3294,0.838],[0.3324,0.9416],[0.33,0.87],[0.33,0.91],[0.3355,0.7917],[0.337,0.8325],[0.34,0.855],[0.34,0.885],[0.34,0.925],[0.35,0.7756],[0.351,0.8148],[0.35,0.85],[0.35,0.875],[0.35,0.915],[0.3617,0.7994],[0.364,0.9278],[0.36,0.84],[0.36,0.87],[0.36,0.905],[0.3694,0.8148],[0.3694,0.9085],[0.37,0.85],[0.37,0.89],[0.38,0.835],[0.38,0.86],[0.383,0.8148],[0.387,0.9147],[0.385,0.88],[0.3925,0.791],[0.39,0.84],[0.39,0.87],[0.3986,0.9185],[0.4,0.82],[0.4,0.85],[0.4,0.885],[0.4094,0.7064],[0.41,0.84],[0.41,0.87],[0.4125,0.9155],[0.4179,0.7294],[0.42,0.78],[0.42,0.815],[0.42,0.85],[0.4257,0.732],[0.43,0.83],[0.43,0.855],[0.4317,0.911],[0.44,0.81],[0.44,0.84],[0.442,0.73],[0.4433,0.695],[0.45,0.79],[0.45,0.82],[0.45,0.855],[0.4525,0.782],[0.454,0.757],[0.458,0.7725],[0.459,0.7956],[0.46,0.807],[0.46,0.845],[0.464,0.7225],[0.464,0.7825],[0.468,0.695],[0.468,0.742],[0.468,0.89],[0.47,0.85],[0.4695,0.7225],[0.472,0.8186],[0.4757,0.803],[0.477,0.9385],[0.477,0.88],[0.477,0.873],[0.4794,0.7594],[0.4817,0.72],[0.482,0.815],[0.4856,0.776],[0.487,0.803],[0.487,0.7417],[0.491,0.614],[0.495,0.784],[0.4973,0.698],[0.497,0.815],[0.5,0.725],[0.5,0.707],[0.5,0.801],[0.504,0.721],[0.504,0.776],[0.505,0.8355],[0.506,0.8455],[0.506,0.784],[0.507,0.87],[0.51,0.815],[0.512,0.643],[0.514,0.7995],[0.516,0.74],[0.5164,0.6925],[0.518,0.8186],[0.5194,0.668],[0.523,0.786],[0.5233,0.728],[0.525,0.609],[0.5255,0.7956],[0.5255,0.7725],[0.5255,0.7587],[0.529,0.74],[0.529,0.8524],[0.5295,0.7325],[0.533,0.7087],[0.537,0.6925],[0.537,0.815],[0.54,0.761],[0.541,0.8086],[0.5425,0.73],[0.543,0.715],[0.545,0.7594],[0.5464,0.655],[0.547,0.846],[0.555,0.797],[0.56,0.7825],[0.564,0.6656],[0.565,0.729],[0.569,0.76],[0.5706,0.724],[0.571,0.743],[0.572,0.851],[0.574,0.736],[0.576,0.7187],[0.577,0.674],[0.578,0.652],[0.581,0.815],[0.583,0.7556],[0.583,0.69],[0.586,0.655],[0.589,0.828],[0.59,0.7],[0.5925,0.64],[0.596,0.782],[0.596,0.74],[0.596,0.676],[0.597,0.609],[0.6,0.71],[0.606,0.764],[0.606,0.6725],[0.606,0.689],[0.606,0.587],[0.61,0.657],[0.611,0.634],[0.611,0.615],[0.611,0.604],[0.6125,0.7595],[0.6133,0.738],[0.614,0.548],[0.62,0.6165],[0.625,0.758],[0.627,0.786],[0.63,0.735],[0.63,0.7125],[0.63,0.609],[0.6325,0.632],[0.6325,0.64],[0.6325,0.654],[0.6325,0.671],[0.635,0.694],[0.641,0.571],[0.643,0.729],[0.6435,0.5635],[0.646,0.709],[0.646,0.5327],[0.65,0.644],[0.653,0.726],[0.6535,0.602],[0.656,0.6265],[0.656,0.542],[0.664,0.615],[0.668,0.622],[0.669,0.476],[0.6695,0.6526],[0.67,0.693],[0.67,0.58],[0.67,0.554],[0.677,0.567],[0.677,0.51],[0.679,0.757],[0.681,0.694],[0.683,0.5327],[0.689,0.605],[0.689,0.546],[0.692,0.497],[0.6926,0.765],[0.693,0.546],[0.694,0.485],[0.696,0.6095],[0.699,0.575],[0.699,0.557],[0.703,0.47],[0.706,0.549],[0.708,0.653],[0.71,0.6],[0.714,0.738],[0.716,0.557],[0.718,0.546],[0.719,0.644],[0.719,0.523],[0.719,0.515],[0.719,0.414],[0.722,0.593],[0.727,0.593],[0.732,0.53],[0.74,0.6533],[0.753,0.4135],[0.756,0.534],[0.76,0.512],[0.761,0.46],[0.77,0.473],[0.77,0.4927],[0.771,0.414],[0.7726,0.51],[0.775,0.39],[0.776,0.588],[0.776,0.441],[0.776,0.423],[0.779,0.593],[0.78,0.5696],[0.782,0.6326],[0.784,0.43],[0.784,0.425],[0.785,0.565],[0.788,0.559],[0.79,0.548],[0.79,0.599],[0.79,0.4996],[0.79,0.368],[0.79,0.3305],[0.793,0.476],[0.803,0.436],[0.803,0.405],[0.804,0.475],[0.806,0.456],[0.809,0.499],[0.81,0.614],[0.817,0.521],[0.819,0.459],[0.823,0.407],[0.8235,0.533],[0.824,0.441],[0.825,0.473],[0.827,0.325],[0.827,0.488],[0.83,0.51],[0.83,0.436],[0.833,0.503],[0.834,0.387],[0.836,0.508],[0.837,0.32],[0.837,0.4635],[0.8375,0.313],[0.839,0.368],[0.847,0.31],[0.8475,0.434],[0.855,0.302],[0.857,0.405],[0.862,0.3835],[0.863,0.356],[0.8635,0.388],[0.866,0.411],[0.868,0.4335],[0.878,0.32],[0.886,0.302],[0.89,0.223],[0.894,0.389],[0.9,0.226],[0.902,0.371],[0.905,0.333],[0.905,0.287],[0.9076,0.342],[0.9076,0.319],[0.9145,0.34],[0.9166,0.371],[0.922,0.256],[0.922,0.247],[0.925,0.36],[0.925,0.213],[0.934,0.282],[0.939,0.333],[0.939,0.1376],[0.9415,0.234],[0.9415,0.11],[0.942,0.25],[0.943,0.2145],[0.9445,0.2575],[0.9445,0.313],[0.945,0.278],[0.955,0.248],[0.955,0.097],[0.967,0.097],[0.9815,0.06],[0.984,0.065],[0.9846,0.0546]];

const rc4CorePoints = [[0.006,1],[0.014,1],[0.024,0.993],[0.034,0.992],[0.044,0.985],[0.044,0.999],[0.054,0.978],[0.054,0.99],[0.064,0.975],[0.064,0.993],[0.074,0.97],[0.074,0.988],[0.084,0.962],[0.084,0.978],[0.084,0.994],[0.095,0.962],[0.095,0.978],[0.095,0.992],[0.105,0.955],[0.105,0.972],[0.105,0.988],[0.115,0.945],[0.115,0.962],[0.115,0.978],[0.125,0.94],[0.125,0.958],[0.125,0.972],[0.125,0.988],[0.135,0.94],[0.135,0.955],[0.135,0.97],[0.145,0.93],[0.145,0.945],[0.145,0.96],[0.145,0.975],[0.155,0.925],[0.155,0.942],[0.155,0.96],[0.165,0.925],[0.165,0.94],[0.165,0.955],[0.165,0.97],[0.175,0.92],[0.175,0.935],[0.175,0.95],[0.175,0.965],[0.185,0.915],[0.185,0.93],[0.185,0.948],[0.185,0.963],[0.195,0.908],[0.195,0.922],[0.195,0.937],[0.195,0.952],[0.195,0.968],[0.205,0.9],[0.205,0.915],[0.205,0.93],[0.205,0.945],[0.205,0.96],[0.215,0.895],[0.215,0.91],[0.215,0.925],[0.215,0.942],[0.215,0.958],[0.225,0.9],[0.225,0.915],[0.225,0.93],[0.225,0.945],[0.235,0.885],[0.235,0.905],[0.235,0.925],[0.235,0.945],[0.245,0.87],[0.245,0.89],[0.245,0.915],[0.245,0.935],[0.255,0.895],[0.255,0.915],[0.255,0.94],[0.265,0.87],[0.265,0.9],[0.265,0.92],[0.275,0.89],[0.275,0.915],[0.275,0.94],[0.285,0.88],[0.285,0.905],[0.285,0.925],[0.295,0.86],[0.295,0.895],[0.295,0.935],[0.305,0.88],[0.305,0.915],[0.315,0.86],[0.315,0.89],[0.315,0.945],[0.325,0.875],[0.325,0.905],[0.335,0.85],[0.335,0.885],[0.345,0.865],[0.345,0.9],[0.355,0.83],[0.355,0.86],[0.355,0.895],[0.365,0.85],[0.365,0.885],[0.375,0.83],[0.375,0.87],[0.385,0.85],[0.385,0.9],[0.395,0.82],[0.395,0.86],[0.405,0.835],[0.405,0.88],[0.415,0.82],[0.415,0.86],[0.425,0.805],[0.425,0.84],[0.435,0.79],[0.435,0.87],[0.445,0.77],[0.445,0.83],[0.455,0.82],[0.465,0.76],[0.465,0.84],[0.475,0.78],[0.485,0.79],[0.49,0.735],[0.51,0.76],[0.52,0.7],[0.535,0.78],[0.55,0.735],[0.575,0.7],[0.585,0.72],[0.595,0.69],[0.605,0.72],[0.62,0.665],[0.64,0.67]];

const legendLabels = ["RCi", "Det solution", "Rob solution for ", "Rob solution for "];
const rc1XMajor = [1.0, 1.5, 2.0, 2.5];
const rc1XMinor = [1.25, 1.75, 2.25, 2.75];
const rc1YMajor = [15000, 20000, 25000, 30000];
const rc1YMinor = [17500, 22500, 27500];
const rc1XLabels = ["1.0", "1.5", "2.0", "2.5"];
const rc1YLabels = ["15 000", "20 000", "25 000", "30 000"];
const rc2XMajor = [1, 2, 3, 4, 5];
const rc2XMinor = [1.5, 2.5, 3.5, 4.5];
const rc2YMajor = [20000, 25000, 30000, 35000];
const rc2YMinor = [22500, 27500, 32500];
const rc2XLabels = ["1", "2", "3", "4", "5"];
const rc2YLabels = ["20 000", "25 000", "30 000", "35 000"];
const rc3XMajor = [0, 0.1, 0.2, 0.3, 0.4, 0.5];
const rc3XMinor = [0.05, 0.15, 0.25, 0.35, 0.45];
const rc3YMajor = [1200, 1400, 1600, 1800, 2000, 2200];
const rc3YMinor = [1100, 1300, 1500, 1700, 1900, 2100];
const rc3XLabels = ["0.0", "0.1", "0.2", "0.3", "0.4", "0.5"];
const rc3YLabels = ["1200", "1400", "1600", "1800", "2000", "2200"];
const rc4XMajor = [0, 0.2, 0.4, 0.6, 0.8, 1];
const rc4XMinor = [0.1, 0.3, 0.5, 0.7, 0.9];
const rc4YMajor = [0, 0.2, 0.4, 0.6, 0.8, 1];
const rc4YMinor = [0.1, 0.3, 0.5, 0.7, 0.9];
const rc4XLabels = ["0.0", "0.2", "0.4", "0.6", "0.8", "1.0"];
const rc4YLabels = ["0.0", "0.2", "0.4", "0.6", "0.8", "1.0"];
const rc1Det = [2.372, 18120];
const rc1RobRc = [1.535, 21080];
const rc1RobSri = [1.54, 21170];
const rc2Det = [4.357, 21860];
const rc2RobRc = [2.737, 25620];
const rc2RobSri = [2.737, 25620];
const rc3Det = [0.439, 1344];
const rc3RobRc = [0.167, 1574];
const rc3RobSri = [0.167, 1574];
const rc4Det = [0.93, 0.4];
const rc4RobRc = [0.534, 0.59];
const rc4RobSri = [0.0735, 0.954];

const NS = 'http://www.w3.org/2000/svg';
const root = document.getElementById('chart');
function mk(tag, attrs, parent) {
  const el = document.createElementNS(NS, tag);
  for (const k in attrs) el.setAttribute(k, attrs[k]);
  (parent || root).appendChild(el);
  return el;
}
function crossMark(parent, cx, cy) {
  const g = mk('g', {stroke: '#000', 'stroke-width': 5.5, 'stroke-linecap': 'round'}, parent);
  
  
  mk('line', {x1: cx - 13, y1: cy - 13, x2: cx + 13, y2: cy + 13}, g);
  mk('line', {x1: cx - 13, y1: cy + 13, x2: cx + 13, y2: cy - 13}, g);
}
function plusMark(parent, cx, cy) {
  const g = mk('g', {stroke: '#000', 'stroke-width': 5.5, 'stroke-linecap': 'round'}, parent);
  
  
  mk('line', {x1: cx - 12, y1: cy, x2: cx + 12, y2: cy}, g);
  mk('line', {x1: cx, y1: cy - 13, x2: cx, y2: cy + 13}, g);
}
function blackDot(parent, cx, cy) {
  const c = mk('circle', {cx: cx, cy: cy, r: 8, fill: '#000'}, parent);
  
  
}
function addText(parent, x, y, str, cls, anchor, extra) {
  const t = mk('text', Object.assign({x: x, y: y, class: cls, 'text-anchor': anchor || 'start'}, extra || {}), parent);
  t.textContent = str;
  return t;
}
function drawPanel(p) {
  const g = mk('g', {});
  
  
  const sx = v => p.x0 + (v - p.xMin) / (p.xMax - p.xMin) * (p.x1 - p.x0);
  const sy = v => p.y0 + (v - p.yMin) / (p.yMax - p.yMin) * (p.y1 - p.y0);
  const clipId = p.name + '-clip';
  const cp = mk('clipPath', {id: clipId}, g);
  mk('rect', {x: 0, y: p.y1 - 0.5, width: 2067, height: p.y0 - p.y1 + 10}, cp);
  const pts = mk('g', {fill: '#ff0000', 'clip-path': 'url(#' + clipId + ')'}, g);
  
  
  p.points.forEach(d => {
    const c = mk('circle', {cx: sx(d[0]).toFixed(1), cy: sy(d[1]).toFixed(1), r: 4.6}, pts);
    
    
  });
  const ax = mk('g', {stroke: '#8c8c8c', 'stroke-width': 1.3, fill: 'none'}, g);
  
  
  mk('line', {x1: p.x0, y1: p.y1, x2: p.x0, y2: p.y0}, ax);
  mk('line', {x1: p.x0, y1: p.y0, x2: p.x1, y2: p.y0}, ax);
  p.xMajor.forEach(v => mk('line', {x1: sx(v), y1: p.y0, x2: sx(v), y2: p.y0 + 13}, ax));
  p.xMinor.forEach(v => mk('line', {x1: sx(v), y1: p.y0, x2: sx(v), y2: p.y0 + 6.5}, ax));
  p.yMajor.forEach(v => mk('line', {x1: p.x0 - 13, y1: sy(v), x2: p.x0, y2: sy(v)}, ax));
  p.yMinor.forEach(v => mk('line', {x1: p.x0 - 6.5, y1: sy(v), x2: p.x0, y2: sy(v)}, ax));
  p.xMajor.forEach((v, i) => {
    const t = addText(g, sx(v) + 1, p.labelY, p.xLabels[i], 'tick', 'middle', {'letter-spacing': p.xSpacing});
    
    
  });
  p.yMajor.forEach((v, i) => {
    const t = addText(g, p.x0 - 22, sy(v) + 9, p.yLabels[i], 'tick', 'end');
    
    
  });
  const yt = addText(g, p.yTitle[1], p.yTitle[2], p.yTitle[0], 'title');
  
  
  const xt = addText(g, p.xTitle[1], p.xTitle[2], p.xTitle[0], 'title');
  
  
  const cap = addText(g, p.cap[1], p.cap[2], p.cap[0], 'cap', 'middle');
  
  
  blackDot(g, sx(p.sri[0]), sy(p.sri[1]));
  plusMark(g, sx(p.rob[0]), sy(p.rob[1]));
  crossMark(g, sx(p.det[0]), sy(p.det[1]));
}
drawPanel({name: 'panel-a', points: rc1Points.concat(rc1CorePoints), x0: 117, x1: 975.5, y0: 696, y1: 36, xMin: 1, xMax: 2.75, yMin: 15000, yMax: 30000,
  xMajor: rc1XMajor, xMinor: rc1XMinor, yMajor: rc1YMajor, yMinor: rc1YMinor, xLabels: rc1XLabels, yLabels: rc1YLabels,
  labelY: 743, xSpacing: '3.5px', yTitle: ['RC1 for P', 124, 43], xTitle: ['RC1 for WD', 796, 766], cap: ['(a)', 545, 790],
  det: rc1Det, rob: rc1RobRc, sri: rc1RobSri});
drawPanel({name: 'panel-b', points: rc2Points.concat(rc2CorePoints), x0: 1051, x1: 1910, y0: 696, y1: 37, xMin: 1, xMax: 5, yMin: 17500, yMax: 35000,
  xMajor: rc2XMajor, xMinor: rc2XMinor, yMajor: rc2YMajor, yMinor: rc2YMinor, xLabels: rc2XLabels, yLabels: rc2YLabels,
  labelY: 743, xSpacing: '0', yTitle: ['RC2 for P', 1056, 38], xTitle: ['RC2 for WD', 1798, 766], cap: ['(b)', 1480, 790],
  det: rc2Det, rob: rc2RobRc, sri: rc2RobSri});
drawPanel({name: 'panel-c', points: rc3Points.concat(rc3CorePoints), x0: 117, x1: 975.5, y0: 1440, y1: 781, xMin: 0, xMax: 0.5, yMin: 1100, yMax: 2200,
  xMajor: rc3XMajor, xMinor: rc3XMinor, yMajor: rc3YMajor, yMinor: rc3YMinor, xLabels: rc3XLabels, yLabels: rc3YLabels,
  labelY: 1486, xSpacing: '3.5px', yTitle: ['RC3 for P', 124, 788], xTitle: ['RC3 for WD', 858, 1515], cap: ['(c)', 545, 1533],
  det: rc3Det, rob: rc3RobRc, sri: rc3RobSri});
drawPanel({name: 'panel-d', points: rc4Points.concat(rc4CorePoints), x0: 1051, x1: 1910, y0: 1440, y1: 782, xMin: 0, xMax: 1, yMin: 0, yMax: 1,
  xMajor: rc4XMajor, xMinor: rc4XMinor, yMajor: rc4YMajor, yMinor: rc4YMinor, xLabels: rc4XLabels, yLabels: rc4YLabels,
  labelY: 1486, xSpacing: '3.5px', yTitle: ['RC4 for P', 1043, 775], xTitle: ['RC4 for WD', 1801, 1519], cap: ['(d)', 1480, 1533],
  det: rc4Det, rob: rc4RobRc, sri: rc4RobSri});

const legend = mk('g', {});


const legDot = mk('circle', {cx: 1629, cy: 27, r: 4.6, fill: '#ff0000'}, legend);


crossMark(legend, 1629, 81.5);
plusMark(legend, 1629, 135);
blackDot(legend, 1629, 188.5);
const leg0 = addText(legend, 1689, 41, legendLabels[0], 'leg', 'start', {'font-style': 'italic'});


const leg1 = addText(legend, 1689, 95, legendLabels[1], 'leg');


const leg2 = addText(legend, 1689, 149, legendLabels[2], 'leg');


mk('tspan', {'font-style': 'italic'}, leg2).textContent = 'RCi';
const leg3 = addText(legend, 1689, 203, legendLabels[3], 'leg');


mk('tspan', {'font-style': 'italic'}, leg3).textContent = 'SRI';
</script>
</body>
</html>
